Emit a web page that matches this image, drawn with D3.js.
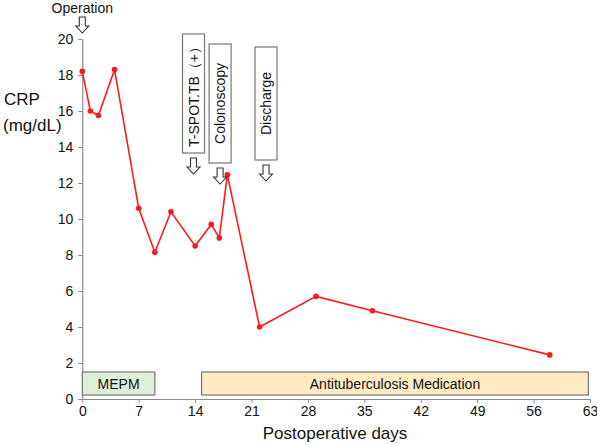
<!DOCTYPE html>
<html><head><meta charset="utf-8">
<script src="https://cdn.jsdelivr.net/npm/d3@7"></script>
<style>body{margin:0;background:#fff}svg{display:block;font-family:"Liberation Sans",Arial,sans-serif}</style>
</head><body><svg id="c" width="597" height="444"></svg>
<script>
const days = [0,1,2,4,7,9,11,14,16,17,18,22,29,36,58];
const crp = [18.2,16.0,15.75,18.3,10.6,8.15,10.4,8.5,9.7,8.95,12.45,4.0,5.7,4.9,2.45];
const xTicks = [0,7,14,21,28,35,42,49,56,63];
const yTicks = [0,2,4,6,8,10,12,14,16,18,20];
const periods = [
  {label:"MEPM", start:0, end:9, fill:"#dfeed8"},
  {label:"Antituberculosis Medication", start:14.8, end:62.8, fill:"#fcebc5"}
];
const eventLabels = ["T-SPOT.TB（+）","Colonoscopy","Discharge"];
const eventDays = [13.8,17.1,22.8];

const svg = d3.select("#c");
const x = d3.scaleLinear().domain([0,63]).range([82.3,590]);
const y = d3.scaleLinear().domain([0,20]).range([399,39]);
const axisCol = "#8a8a8a";

const gx = svg.append("g").attr("transform","translate(0,"+y(0)+")")
  .call(d3.axisBottom(x).tickValues(xTicks).tickSize(4).tickSizeOuter(0).tickPadding(3));
const gy = svg.append("g").attr("transform","translate("+x(0)+",0)")
  .call(d3.axisLeft(y).tickValues(yTicks).tickSize(4).tickSizeOuter(0).tickPadding(5));
[gx,gy].forEach(g=>{
  g.select(".domain").attr("stroke",axisCol).attr("stroke-width",1.2);
  g.selectAll(".tick line").attr("stroke",axisCol);
  g.selectAll(".tick text").attr("font-size",14).attr("fill","#111").attr("font-family","Liberation Sans, Arial, sans-serif");
});

const pb = svg.append("g");
periods.forEach(p=>{
  pb.append("rect").attr("x",x(p.start)).attr("y",y(1.5)).attr("width",x(p.end)-x(p.start))
    .attr("height",y(0.22)-y(1.5)).attr("fill",p.fill).attr("stroke","#777").attr("stroke-width",1.2);
  pb.append("text").attr("x",(x(p.start)+x(p.end))/2).attr("y",(y(1.5)+y(0.22))/2+5)
    .attr("text-anchor","middle").attr("font-size",14).attr("fill","#111").text(p.label);
});

svg.append("path").datum(days.map((d,i)=>[d,crp[i]]))
  .attr("d",d3.line().x(d=>x(d[0])).y(d=>y(d[1])))
  .attr("fill","none").attr("stroke","#ff1a1a").attr("stroke-width",1.6);
svg.append("g").selectAll("circle").data(days).join("circle")
  .attr("cx",d=>x(d)).attr("cy",(d,i)=>y(crp[i])).attr("r",2.8).attr("fill","#ff1a1a");

function arrow(cx,top){
  const sw=3, hw=6.5, sh=9, hh=7;
  const pts=[[cx-sw,top],[cx+sw,top],[cx+sw,top+sh],[cx+hw,top+sh],[cx,top+sh+hh],[cx-hw,top+sh],[cx-sw,top+sh]];
  svg.append("path").attr("d","M"+pts.map(p=>p.join(",")).join("L")+"Z")
    .attr("fill","#fff").attr("stroke","#333").attr("stroke-width",1.1);
}

svg.append("text").attr("x",x(0)).attr("y",13).attr("text-anchor","middle")
  .attr("font-size",14).attr("fill","#111").text("Operation");
arrow(x(0),17);

const boxTops=[34,44,47], boxBottoms=[153,163,160];
eventLabels.forEach((lab,i)=>{
  const cx=x(eventDays[i]);
  svg.append("rect").attr("x",cx-11).attr("y",boxTops[i]).attr("width",22).attr("height",boxBottoms[i]-boxTops[i])
    .attr("fill","#fff").attr("stroke","#777").attr("stroke-width",1.2);
  svg.append("text").attr("transform","translate("+(cx+5)+","+((boxTops[i]+boxBottoms[i])/2)+") rotate(-90)")
    .attr("text-anchor","middle").attr("font-size",14).attr("fill","#111").text(lab);
  arrow(cx,boxBottoms[i]+5);
});

svg.append("text").attr("x",4).attr("y",105).attr("font-size",17).attr("fill","#111").text("CRP");
svg.append("text").attr("x",3).attr("y",131).attr("font-size",17).attr("fill","#111").text("(mg/dL)");
svg.append("text").attr("x",335).attr("y",439).attr("text-anchor","middle").attr("font-size",17).attr("fill","#111").text("Postoperative days");
</script></body></html>
